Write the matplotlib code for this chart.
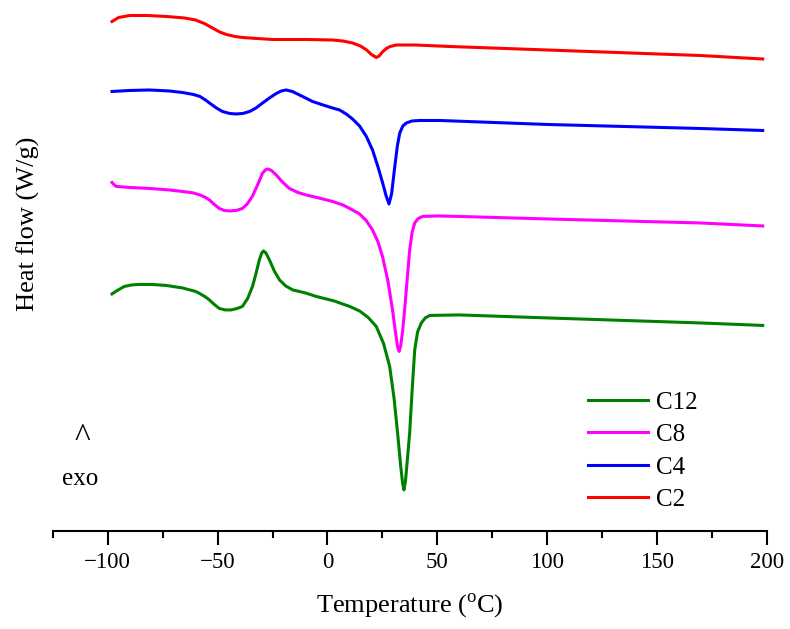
import numpy as np
import matplotlib
matplotlib.use('Agg')
import matplotlib.pyplot as plt
from matplotlib.ticker import MultipleLocator

plt.rcParams['font.family'] = ['Liberation Serif', 'DejaVu Serif']
plt.rcParams['mathtext.fontset'] = 'custom'
plt.rcParams['mathtext.rm'] = 'Liberation Serif'

# DSC curves (temperature in C, heat flow in arbitrary offset units)
T_c2 = [-98, -95, -90, -82, -73, -65, -60, -56, -52.3, -49, -46, -42, -38.7, -32, -25,
        -9.7, 2.3, 7, 11.4, 15, 17.8, 20, 22.2, 23.5, 25, 26.8, 28.5, 31.3, 40, 55.6,
        100, 169.4, 198]
hf_c2 = [10.19, 10.27, 10.31, 10.31, 10.29, 10.26, 10.22, 10.15, 10.06, 9.98, 9.93,
         9.89, 9.87, 9.85, 9.83, 9.83, 9.82, 9.80, 9.76, 9.70, 9.62, 9.53, 9.47, 9.50,
         9.58, 9.65, 9.69, 9.72, 9.72, 9.69, 9.62, 9.51, 9.44]

T_c4 = [-98, -90, -81, -72, -66, -61, -58, -55.5, -53.7, -50.5, -47.8, -44.5, -41.5,
        -38.5, -35.4, -32.5, -29.5, -26.4, -23.3, -21, -18.8, -16, -12.7, -9.5, -6.8,
        -2, 2.3, 5.5, 8.5, 11.4, 14.6, 17.7, 20.5, 23, 25.1, 26.7, 28.0, 29.2, 30,
        30.6, 31.8, 32.9, 34.3, 35.9, 38.5, 42, 51, 100, 169.4, 198]
hf_c4 = [8.79, 8.81, 8.82, 8.80, 8.77, 8.73, 8.69, 8.62, 8.56, 8.46, 8.39, 8.35, 8.34,
         8.35, 8.39, 8.46, 8.56, 8.66, 8.75, 8.80, 8.82, 8.79, 8.72, 8.65, 8.59,
         8.52, 8.46, 8.42, 8.34, 8.24, 8.10, 7.89, 7.62, 7.28, 6.96, 6.70, 6.54, 6.75,
         7.05, 7.28, 7.70, 7.96, 8.10, 8.16, 8.20, 8.21, 8.21, 8.13, 8.05, 8.01]

T_c8 = [-98, -97, -96, -90, -81, -72, -66, -61, -58, -55.5, -53.7, -51.5, -49.2, -47,
        -44.6, -41.5, -38.7, -36.5, -34.2, -31.8, -29.6, -28.3, -27.1, -25.5, -23.3,
        -20.5, -17.3, -13.5, -9.7, -4, 2.3, 7, 11.4, 14.6, 17.6, 20.5, 23, 25.1, 27.5,
        29.6, 31, 32, 32.6, 33.3, 34.2, 35.1, 36.3, 37.4, 38.5, 39.7, 41.3, 43.3, 50,
        60, 100, 169.4, 198]
hf_c8 = [6.97, 6.92, 6.89, 6.87, 6.85, 6.82, 6.79, 6.76, 6.72, 6.67, 6.62, 6.53, 6.45,
         6.41, 6.40, 6.41, 6.45, 6.54, 6.69, 6.92, 7.15, 7.22, 7.24, 7.21, 7.12,
         6.98, 6.85, 6.77, 6.72, 6.66, 6.59, 6.52, 6.42, 6.34, 6.21, 6.02, 5.78, 5.48,
         5.00, 4.42, 3.95, 3.66, 3.59, 3.70, 4.00, 4.42, 5.05, 5.62, 5.97, 6.16, 6.25,
         6.29, 6.30, 6.29, 6.24, 6.16, 6.10]

T_c12 = [-98, -96, -92.4, -89, -85.6, -80, -73.4, -66, -60, -58.2, -55.5, -53.7, -51.5,
         -49.2, -46.5, -43.8, -41, -38.7, -36.3, -34.1, -32.5, -31, -29.9, -29.1, -28,
         -26.4, -24.2, -21.8, -19, -15.8, -10, -5.1, 3, 10.1, 14.6, 18.5, 22.2, 25.5,
         28.3, 30.3, 31.9, 33.3, 34.2, 34.8, 35.5, 36.3, 37.4, 38.5, 39.7, 41, 42.7,
         44.5, 46.5, 60, 100, 169.4, 198]
hf_c12 = [4.74, 4.80, 4.89, 4.92, 4.93, 4.93, 4.91, 4.86, 4.79, 4.75, 4.68, 4.62, 4.53,
          4.45, 4.42, 4.42, 4.45, 4.49, 4.65, 4.89, 5.15, 5.42, 5.56, 5.60, 5.56,
          5.42, 5.20, 5.02, 4.90, 4.82, 4.76, 4.69, 4.60, 4.49, 4.40, 4.27, 4.09, 3.75,
          3.29, 2.65, 1.96, 1.30, 0.95, 0.82, 1.00, 1.40, 1.96, 2.80, 3.62, 3.98, 4.16,
          4.26, 4.31, 4.32, 4.26, 4.16, 4.11]

fig = plt.figure(figsize=(7.9, 6.29), dpi=100)
ax = fig.add_axes([0.0667, 0.156, 0.9043, 0.844])

lw = 2.2
ax.plot(T_c12, hf_c12, color='green', lw=lw, label='C12', solid_joinstyle='round')
ax.plot(T_c8, hf_c8, color='magenta', lw=lw, label='C8', solid_joinstyle='round')
ax.plot(T_c4, hf_c4, color='blue', lw=lw, label='C4', solid_joinstyle='round')
ax.plot(T_c2, hf_c2, color='red', lw=lw, label='C2', solid_joinstyle='round')

ax.set_xlim(-125, 200)
ax.set_ylim(0, 10.62)
ax.xaxis.set_major_locator(MultipleLocator(50))
ax.xaxis.set_minor_locator(MultipleLocator(25))
ax.tick_params(axis='x', which='major', direction='out', length=10, width=1.5,
               labelsize=16.5, pad=5)
ax.tick_params(axis='x', which='minor', direction='out', length=5, width=1.5)
ax.set_yticks([])
for s in ['top', 'right', 'left']:
    ax.spines[s].set_visible(False)
ax.spines['bottom'].set_linewidth(1.5)

ax.set_xlabel('Temperature ($^{\\mathrm{o}}$C)', fontsize=19, labelpad=13)
fig.text(28 / 790, 1 - 224 / 629, 'Heat flow (W/g)', rotation=90, fontsize=19,
         ha='center', va='center')

# exotherm direction marker
ax.text(-111.5, 1.87, '^', fontsize=24, ha='center', va='center')
ax.text(-112.3, 1.04, 'exo', fontsize=18, ha='center', va='center')

ax.legend(loc='lower right', bbox_to_anchor=(0.934, -0.005), frameon=False, fontsize=18,
          handlelength=2.4, labelspacing=0.4, handletextpad=0.3)

fig.savefig('out.png', dpi=100)
